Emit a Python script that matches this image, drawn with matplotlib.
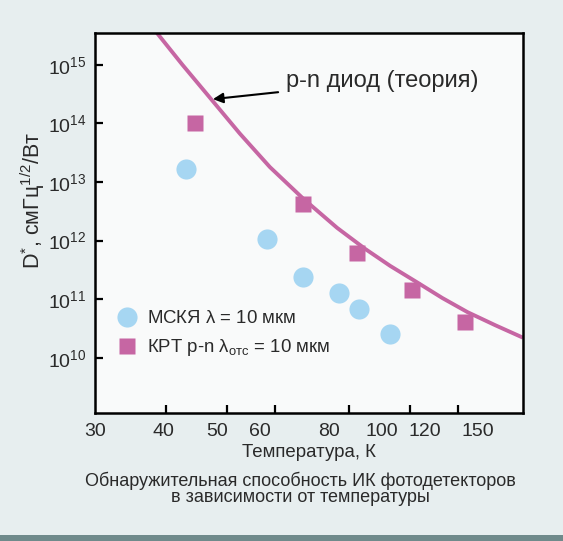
import matplotlib
matplotlib.use("Agg")
import matplotlib.pyplot as plt
from matplotlib.patches import Rectangle

plt.rcParams["font.family"] = ["Liberation Sans", "DejaVu Sans"]
plt.rcParams["mathtext.fontset"] = "custom"
plt.rcParams["mathtext.rm"] = "Liberation Sans"
plt.rcParams["mathtext.it"] = "Liberation Sans:italic"

# МСКЯ, lambda = 10 um
qwip_t = [44.0, 61.8, 71.9, 83.6, 91.0, 103.6]
qwip_d = [1.7e13, 1.05e12, 2.4e11, 1.3e11, 6.8e10, 2.5e10]

# КРТ p-n, lambda_cutoff = 10 um
mct_t = [45.7, 71.9, 90.2, 113.7, 142.0]
mct_d = [1.0e14, 4.2e12, 6.2e11, 1.45e11, 4.1e10]

# theoretical limit of the p-n diode
theory_t = [38.9, 43.3, 49.0, 55.1, 62.5, 71.9, 82.9, 93.3, 103.6,
            116.4, 128.9, 143.4, 161.0, 181.0]
theory_d = [3.5e15, 1.0e15, 2.5e14, 6.7e13, 1.8e13, 5.2e12, 1.65e12, 7.2e11,
            3.7e11, 1.9e11, 1.05e11, 6.0e10, 3.6e10, 2.2e10]

x_labels = [30, 40, 50, 60, 80, 100, 120, 150]
x_marks = [40.4, 52.1, 63.8, 87.0, 112.6, 138.0]
y_ticks = [1e10, 1e11, 1e12, 1e13, 1e14, 1e15]

PINK = "#c666a3"
BLUE = "#a6d6f2"
INK = "#2a2a2a"

fig = plt.figure(figsize=(5.63, 5.41), dpi=100, facecolor="#e7eeef")
ax = fig.add_axes([0.169, 0.237, 0.760, 0.702], facecolor="#f9fafa")

ax.plot(theory_t, theory_d, color=PINK, lw=2.8, solid_capstyle="butt",
        solid_joinstyle="round", zorder=2)
ax.plot(qwip_t, qwip_d, "o", ms=14.5, color=BLUE, mec="none",
        label=r"МСКЯ $\mathregular{\lambda}$ = 10 мкм", zorder=3)
ax.plot(mct_t, mct_d, "s", ms=12, color=PINK, mec="none",
        label=r"КРТ p-n $\mathregular{\lambda_{отс}}$ = 10 мкм", zorder=3)

ax.annotate("p-n диод (теория)", xy=(49.2, 2.6e14), xytext=(67.0, 5.3e14),
            ha="left", va="center", fontsize=17, color=INK,
            arrowprops=dict(arrowstyle="-|>", color="black", lw=1.5,
                            mutation_scale=15, shrinkA=4, shrinkB=0))

ax.set_xscale("log")
ax.set_yscale("log")
ax.set_xlim(30, 181)
ax.set_ylim(1.15e9, 3.5e15)

ax.set_xticks(x_labels)
ax.set_xticklabels([str(v) for v in x_labels])
ax.set_xticks(x_marks, minor=True)
ax.set_xticklabels([], minor=True)
ax.tick_params(axis="x", which="major", length=0, pad=7, labelsize=14,
               labelcolor=INK)
ax.tick_params(axis="x", which="minor", direction="in", length=6, width=1.6,
               color="black")

ax.set_yticks(y_ticks)
ax.set_yticklabels([r"$\mathregular{10^{%d}}$" % e for e in range(10, 16)])
ax.yaxis.set_minor_locator(plt.NullLocator())
ax.tick_params(axis="y", which="major", direction="in", length=6, width=1.6,
               pad=6, labelsize=14, labelcolor=INK)

for s in ax.spines.values():
    s.set_linewidth(1.8)
    s.set_color("black")

ax.set_xlabel("Температура, К", fontsize=13.4, color=INK, labelpad=3)
ax.set_ylabel(r"$\mathregular{D^{*}}$, смГц$\mathregular{^{1/2}}$/Вт",
              fontsize=15.5, color=INK, va="center")
ax.yaxis.set_label_coords(-0.145, 0.56)

ax.legend(loc="upper left", bbox_to_anchor=(0.03, 0.29), frameon=False,
          fontsize=13.4, handletextpad=0.5, labelspacing=0.55, borderaxespad=0,
          handlelength=1.2, labelcolor=INK)

fig.text(0.533, 0.096,
         "Обнаружительная способность ИК фотодетекторов\nв зависимости от температуры",
         ha="center", va="center", fontsize=13, color=INK, linespacing=0.95)

fig.patches.append(Rectangle((0, 0), 1, 0.011, transform=fig.transFigure,
                             facecolor="#6f8a8b", edgecolor="none"))

fig.savefig("out.png", dpi=100, facecolor=fig.get_facecolor())
